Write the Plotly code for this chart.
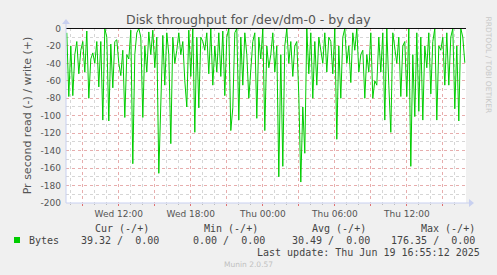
import plotly.graph_objects as go
import pandas as pd

# ---- data ----
start_time = "2025-06-18 07:40"
step_minutes = 10
read_bytes = [
    -5, -78, -20, -77, -30, -15, -52, -25, -15, -50,
    -3, -80, -35, -28, -40, -15, -67, -15, -105, 0,
    -10, -106, -18, -68, -15, -13, -40, -54, -25, -102,
    -30, -35, -2, -155, -30, -5, 0, -10, -102, -20,
    -50, -4, -30, -2, -45, -10, -166, -81, -8, -65,
    -5, -30, -132, -10, -40, -25, -5, -30, -15, -60,
    -90, -2, -55, 0, -119, -10, -91, -10, -15, -25,
    -5, -52, 0, -65, -20, -50, -5, -55, -3, -77,
    -10, 0, -117, -91, -5, 0, -105, -10, -65, -5,
    -30, -80, -40, -15, -5, -103, -10, -35, 0, -117,
    -20, -45, -30, -5, -50, -20, -170, -30, -158, -20,
    0, -40, -15, -55, -20, -15, -77, -176, -90, -143,
    0, -52, -5, -80, -15, -65, -10, -25, -40, -5,
    -50, -10, -15, -52, 0, -127, -20, -80, -10, 0,
    -40, -20, -62, -5, -25, 0, -50, -30, -25, -80,
    -30, -50, -5, -80, -60, -65, -10, -50, -5, -105,
    0, -65, -119, -5, -25, -40, -10, -78, -20, -15,
    -78, 0, -158, -30, -101, -5, -95, -10, -105, -20,
    -45, -5, -75, -15, 0, -105, -20, -25, -10, -65,
    -5, -65, -10, 0, -92, -20, -106, 0, -10, -39.32,
]
x_tick_vals = ["2025-06-18 09:00", "2025-06-18 12:00", "2025-06-18 15:00",
               "2025-06-18 18:00", "2025-06-18 21:00", "2025-06-19 00:00",
               "2025-06-19 03:00", "2025-06-19 06:00", "2025-06-19 09:00",
               "2025-06-19 12:00", "2025-06-19 15:00"]
x_tick_text = ["", "Wed 12:00", "", "Wed 18:00", "", "Thu 00:00",
               "", "Thu 06:00", "", "Thu 12:00", ""]
y_tick_vals = [0, -20, -40, -60, -80, -100, -120, -140, -160, -180, -200]
y_tick_text = ["0", "-20", "-40", "-60", "-80", "-100", "-120", "-140",
               "-160", "-180", "-200"]
legend_headers = ["Cur (-/+)", "Min (-/+)", "Avg (-/+)", "Max (-/+)"]
legend_values = ["39.32 /  0.00", "0.00 /  0.00", "30.49 /  0.00", "176.35 /  0.00"]
series_name = "Bytes"
title_text = "Disk throughput for /dev/dm-0 - by day"
y_title = "Pr second read (-) / write (+)"
last_update = "Last update: Thu Jun 19 16:55:12 2025"
footer = "Munin 2.0.57"
side_text = "RRDTOOL / TOBI OETIKER"

times = pd.date_range(start_time, periods=len(read_bytes), freq=f"{step_minutes}min")

W, H = 497, 275
L, R, T, B = 66, 466, 28, 203


def px(x):
    return (x - L) / (R - L)


def py(y):
    return (B - y) / (B - T)


fig = go.Figure()
fig.add_trace(go.Scatter(x=times, y=read_bytes, mode="lines",
                         line=dict(color="#00CC00", width=1), showlegend=False,
                         hoverinfo="skip"))

grid_major = "rgba(240,150,150,0.65)"
grid_minor = "rgba(200,200,200,0.75)"
tick_font = dict(family="DejaVu Sans", size=9, color="#555555")

fig.update_layout(
    width=W, height=H,
    margin=dict(l=L, r=W - R, t=T, b=H - B),
    paper_bgcolor="#F0F0F0", plot_bgcolor="#FFFFFF",
    showlegend=False,
    xaxis=dict(
        range=[times[0] - pd.Timedelta(minutes=4), times[-1] + pd.Timedelta(minutes=6)],
        tickmode="array", tickvals=x_tick_vals, ticktext=x_tick_text,
        showgrid=True, gridcolor=grid_major, griddash="dot", gridwidth=1,
        ticks="outside", ticklen=2, tickcolor="#e07070",
        tickfont=tick_font, showline=False, zeroline=False,
        minor=dict(dtick=3600000, showgrid=True, gridcolor=grid_minor,
                   griddash="dot", gridwidth=1, ticks="outside", ticklen=1,
                   tickcolor="#bbbbbb"),
        fixedrange=True,
    ),
    yaxis=dict(
        range=[-200, 0.5],
        tickmode="array", tickvals=y_tick_vals, ticktext=y_tick_text,
        showgrid=True, gridcolor=grid_major, griddash="dot", gridwidth=1,
        tickfont=tick_font, ticks="", ticklabelstandoff=4,
        showline=False, zeroline=False,
        minor=dict(dtick=10, showgrid=True, gridcolor=grid_minor,
                   griddash="dot", gridwidth=1),
        title=dict(text=y_title, font=dict(family="DejaVu Sans", size=11, color="#555555"),
                   standoff=6),
        fixedrange=True,
    ),
)

# zero rule
fig.add_shape(type="line", xref="paper", yref="y", x0=0, x1=1, y0=0, y1=0,
              line=dict(color="#000000", width=1))
# axis lines with arrows
axis_col = "#C8D0F0"
fig.add_shape(type="line", xref="paper", yref="paper", x0=0, x1=px(470), y0=0, y1=0,
              line=dict(color=axis_col, width=1))
fig.add_shape(type="line", xref="paper", yref="paper", x0=0, x1=0, y0=0, y1=py(22),
              line=dict(color=axis_col, width=1))
fig.add_shape(type="path", xref="paper", yref="paper",
              path=f"M {px(469)} {py(199)} L {px(474)} {py(203)} L {px(469)} {py(207)} Z",
              fillcolor=axis_col, line=dict(width=0))
fig.add_shape(type="path", xref="paper", yref="paper",
              path=f"M {px(62)} {py(24)} L {px(66)} {py(19)} L {px(70)} {py(24)} Z",
              fillcolor=axis_col, line=dict(width=0))

ann = []
ann.append(dict(text=title_text, x=px(248), y=py(19), xref="paper", yref="paper",
                xanchor="center", yanchor="middle", showarrow=False,
                font=dict(family="DejaVu Sans", size=12.5, color="#555555")))
ann.append(dict(text=side_text, x=px(488), y=py(14), xref="paper", yref="paper",
                xanchor="center", yanchor="top", showarrow=False, textangle=90,
                font=dict(family="DejaVu Sans", size=7.5, color="#C8C8C8")))
mono = dict(family="DejaVu Sans Mono", size=10, color="#444444")
header_right = [151, 260, 368, 477]
value_right = [161, 267, 372, 477]
for h, xr in zip(legend_headers, header_right):
    ann.append(dict(text=h.replace(" ", "&nbsp;"), x=px(xr), y=py(228), xref="paper", yref="paper",
                    xanchor="right", yanchor="middle", showarrow=False, font=mono))
for v, xr in zip(legend_values, value_right):
    ann.append(dict(text=v.replace(" ", "&nbsp;"), x=px(xr), y=py(240), xref="paper", yref="paper",
                    xanchor="right", yanchor="middle", showarrow=False, font=mono))
ann.append(dict(text=series_name, x=px(27), y=py(240), xref="paper", yref="paper",
                xanchor="left", yanchor="middle", showarrow=False, font=mono))
ann.append(dict(text=last_update.replace(" ", "&nbsp;"), x=px(482), y=py(252), xref="paper", yref="paper",
                xanchor="right", yanchor="middle", showarrow=False, font=mono))
ann.append(dict(text=footer, x=px(248), y=py(264), xref="paper", yref="paper",
                xanchor="center", yanchor="middle", showarrow=False,
                font=dict(family="DejaVu Sans", size=7.5, color="#C0C0C0")))
fig.update_layout(annotations=ann)

fig.add_shape(type="rect", xref="paper", yref="paper",
              x0=px(14), x1=px(20), y0=py(243), y1=py(237),
              fillcolor="#00CC00", line=dict(width=0))

fig.write_html("out.html")
